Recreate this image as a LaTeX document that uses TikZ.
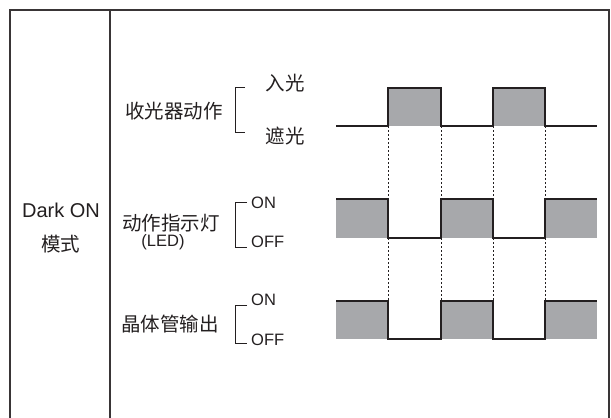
\documentclass[tikz,border=0pt]{standalone}
\usepackage{fontspec}
\setmainfont{Liberation Sans}
\newfontfamily\cjk{Noto Sans CJK SC}
\usetikzlibrary{calc}
\definecolor{pulsegray}{HTML}{A7A8AB}
\definecolor{ink}{HTML}{231F20}
\tikzset{
	lbl/.style={inner sep=0pt, text=ink, font=\cjk\fontsize{19.5}{21}\selectfont},
	latin/.style={inner sep=0pt, text=ink, font=\fontsize{20}{22}\selectfont},
	lvl/.style={inner sep=0pt, anchor=west, text=ink, font=\fontsize{16.5}{18}\selectfont},
	wave/.style={line width=1.4pt, color=ink},
	brk/.style={line width=1pt, color=ink},
	frame/.style={line width=1.8pt, color=ink!90}
}
\def\brkt(#1:#2:#3:#4){\draw[brk] (#2, #3) -- (#1, #3) -- (#1, #4) -- (#2, #4);}

\begin{document}
\begin{tikzpicture}[x=1pt, y=-1pt]
		%%%%% START %%%%%
		\useasboundingbox (0, 0) rectangle (611, 418);
		
		% frame, open at the bottom
		\draw[frame] (10, 418) -- (10, 10) -- (609, 10) -- (609, 418);
		\draw[frame] (110, 10) -- (110, 418);
		
		% mode column
		\node[latin] (mode) at (61, 210) {Dark ON};
		\node[lbl] (modecn) at (61, 244) {模式};
		
		% receiver
		\node[lbl] (recv) at (174, 111) {收光器动作};
		\brkt(235:245:87:132)
		\node[lbl] (lightin) at (285, 83) {入光};
		\node[lbl] (lightcut) at (285, 136) {遮光};
		
		% indicator
		\node[lbl] (led) at (171, 223) {动作指示灯};
		\node[latin, font=\fontsize{16.5}{18}\selectfont] (ledtag) at (163, 242) {(LED)};
		\brkt(235:247:202:247)
		\node[lvl] (ledon) at (251, 203) {ON};
		\node[lvl] (ledoff) at (251, 242) {OFF};
		
		% transistor
		\node[lbl] (out) at (170, 324) {晶体管输出};
		\brkt(235:247:305:343)
		\node[lvl] (outon) at (251, 300) {ON};
		\node[lvl] (outoff) at (251, 340) {OFF};
		
		% dotted guides
		\foreach \x in {388, 441, 493, 545}
			\draw[line width=1pt, dash pattern=on 2pt off 2pt, color=ink] (\x, 126) -- (\x, 301);
		
		% fills
		\fill[pulsegray] (388, 88) rectangle (441, 126);
		\fill[pulsegray] (493, 88) rectangle (545, 126);
		\foreach \y/\b in {199/238, 301/339} {
			\fill[pulsegray] (336, \y) rectangle (388, \b);
			\fill[pulsegray] (441, \y) rectangle (493, \b);
			\fill[pulsegray] (545, \y) rectangle (597, \b);
		}
		
		% waves
		\draw[wave] (336, 126) -- (388, 126) -- (388, 88) -- (441, 88) -- (441, 126)
			-- (493, 126) -- (493, 88) -- (545, 88) -- (545, 126) -- (597, 126);
		\foreach \y/\b in {199/238, 301/339}
			\draw[wave] (336, \y) -- (388, \y) -- (388, \b) -- (441, \b) -- (441, \y)
				-- (493, \y) -- (493, \b) -- (545, \b) -- (545, \y) -- (597, \y);
		
		%%%%% END %%%%%
	\end{tikzpicture}
\end{document}
